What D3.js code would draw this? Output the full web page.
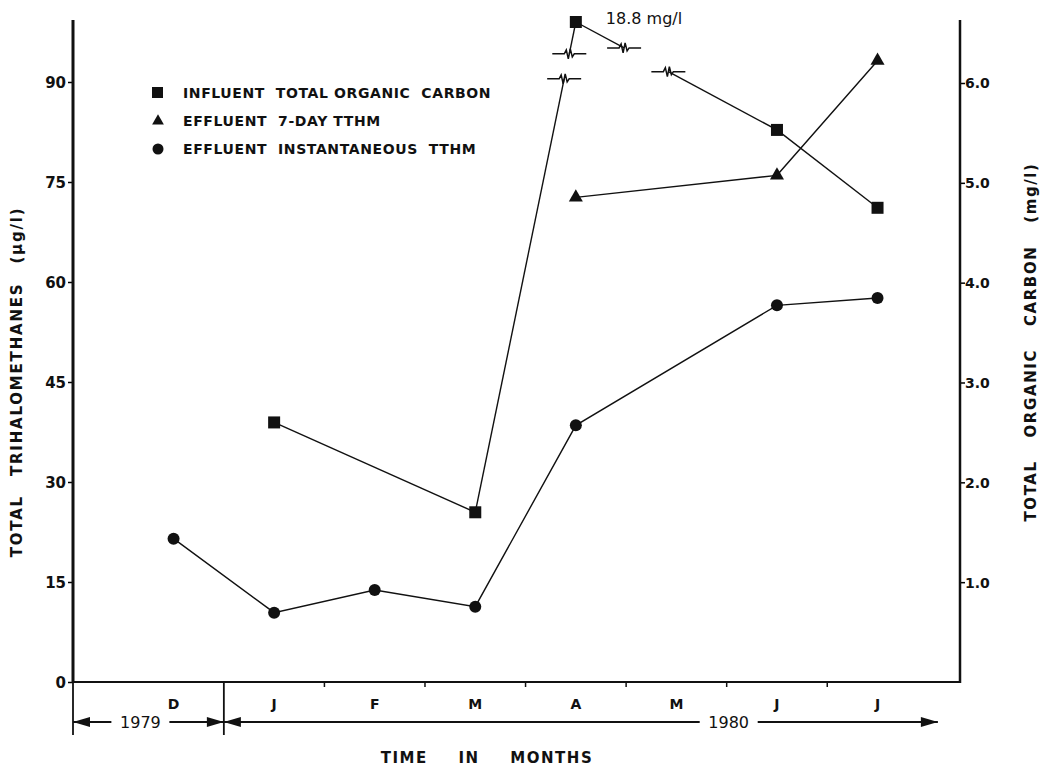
<!DOCTYPE html>
<html>
<head>
<meta charset="utf-8">
<script src="https://cdn.jsdelivr.net/npm/d3@7"></script>
<style>
  body { margin: 0; background: #fff; }
  svg text { font-family: "DejaVu Sans", sans-serif; font-weight: bold; fill: #111; }
</style>
</head>
<body>
<svg id="chart" width="1051" height="770"></svg>
<script>
// month labels along the bottom (D = Dec 1979, then Jan..Jul 1980)
const monthLabels = ["D", "J", "F", "M", "A", "M", "J", "J"];

// effluent instantaneous TTHM (ug/l)
const instMonths = [0, 1, 2, 3, 4, 6, 7];
const instTTHM = [21.5, 10.4, 13.8, 11.3, 38.5, 56.5, 57.6];

// effluent 7-day TTHM (ug/l)
const sevenMonths = [4, 6, 7];
const sevenTTHM = [72.7, 76.0, 93.2];

// influent total organic carbon (mg/l), April value is off the scale
const tocMonths = [1, 3, 4, 6, 7];
const tocValues = [2.6, 1.7, 18.8, 5.53, 4.75];

const leftTicks = [0, 15, 30, 45, 60, 75, 90];
const rightTicks = [1.0, 2.0, 3.0, 4.0, 5.0, 6.0];

const svg = d3.select("#chart");

// x: month index, y left in ug/l, y right in mg/l (1 mg/l TOC = 15 ug/l grid)
const x = d3.scaleLinear().domain([-1, 7.82]).range([73, 960]);
const yLeft = d3.scaleLinear().domain([0, 99]).range([682, 22]);
// broken right scale: the 18.8 mg/l point is squeezed to the top
const yRight = d3.scaleLinear().domain([0, 6.0, 18.8]).range([682, 83, 22]);

// axes
const leftAxis = d3.axisLeft(yLeft).tickValues(leftTicks).tickSize(5).tickPadding(3).tickFormat(d3.format("d"));
const gl = svg.append("g").attr("transform", "translate(73,0)").call(leftAxis);
gl.select(".domain").remove();
gl.selectAll("text").style("font-size", "15px").attr("dy", "0.35em").attr("x", -7);
gl.selectAll("line").attr("stroke-width", 1.5);

const rightAxis = d3.axisRight(yRight).tickValues(rightTicks).tickSize(5).tickFormat(d3.format(".1f"));
const gr = svg.append("g").attr("transform", "translate(960,0)").call(rightAxis);
gr.select(".domain").remove();
gr.selectAll("text").style("font-size", "14px").attr("x", 5).attr("dy", "0.35em");
gr.selectAll("line").attr("stroke-width", 1.5);

// axis lines
svg.append("line").attr("x1", 73).attr("x2", 73).attr("y1", 20).attr("y2", 683)
  .attr("stroke", "#111").attr("stroke-width", 3);
svg.append("line").attr("x1", 960).attr("x2", 960).attr("y1", 20).attr("y2", 683)
  .attr("stroke", "#111").attr("stroke-width", 2.5);
svg.append("line").attr("x1", 72).attr("x2", 961).attr("y1", 682).attr("y2", 682)
  .attr("stroke", "#111").attr("stroke-width", 2);

// bottom month ticks and labels
const boundaries = d3.range(1.5, 7, 1);
svg.selectAll(".mtick").data(boundaries).enter().append("line")
  .attr("x1", d => x(d)).attr("x2", d => x(d))
  .attr("y1", 682).attr("y2", 687)
  .attr("stroke", "#111").attr("stroke-width", 1.5);

svg.selectAll(".mlab").data(monthLabels).enter().append("text")
  .attr("x", (d, i) => x(i)).attr("y", 709)
  .attr("text-anchor", "middle").style("font-size", "14px")
  .text(d => d);

// year separators
[-1, 0.5].forEach(m => {
  svg.append("line").attr("x1", x(m)).attr("x2", x(m))
    .attr("y1", 682).attr("y2", 735).attr("stroke", "#111").attr("stroke-width", 1.8);
});

// year arrows
function yearArrow(m0, m1, label, labelAt, gap) {
  const yy = 722;
  const cx = x(labelAt);
  svg.append("line").attr("x1", x(m0)).attr("x2", cx - gap).attr("y1", yy).attr("y2", yy)
    .attr("stroke", "#111").attr("stroke-width", 2);
  svg.append("line").attr("x1", cx + gap).attr("x2", x(m1)).attr("y1", yy).attr("y2", yy)
    .attr("stroke", "#111").attr("stroke-width", 2);
  svg.append("path")
    .attr("d", `M${x(m0)},${yy} l17,-5 l0,10 z`).attr("fill", "#111");
  svg.append("path")
    .attr("d", `M${x(m1)},${yy} l-17,-5 l0,10 z`).attr("fill", "#111");
  svg.append("text").attr("x", cx).attr("y", yy).attr("dy", "0.35em")
    .attr("text-anchor", "middle").style("font-size", "16px").style("font-weight", "normal")
    .text(label);
}
yearArrow(-1, 0.5, "1979", -0.33, 29);
yearArrow(0.5, 7.6, "1980", 5.52, 29);

// axis titles
svg.append("text").attr("x", 487).attr("y", 763).attr("text-anchor", "middle")
  .style("font-size", "15px").style("word-spacing", "24px").style("letter-spacing", "1.5px")
  .text("TIME IN MONTHS");

svg.append("text").attr("transform", "translate(22,382) rotate(-90)")
  .attr("text-anchor", "middle").style("font-size", "15px")
  .style("word-spacing", "12px").style("letter-spacing", "1.8px")
  .text("TOTAL TRIHALOMETHANES (\u03bcg/l)");

svg.append("text").attr("transform", "translate(1036,342) rotate(-90)")
  .attr("text-anchor", "middle").style("font-size", "15px")
  .style("word-spacing", "16px").style("letter-spacing", "1.6px")
  .text("TOTAL ORGANIC CARBON (mg/l)");

// lines
const lineL = d3.line().x(d => x(d[0])).y(d => yLeft(d[1]));
const instPts = instMonths.map((m, i) => [m, instTTHM[i]]);
const sevenPts = sevenMonths.map((m, i) => [m, sevenTTHM[i]]);
const tocPts = tocMonths.map((m, i) => [m, tocValues[i]]);

svg.append("path").datum(instPts).attr("d", lineL)
  .attr("fill", "none").attr("stroke", "#111").attr("stroke-width", 1.4);
svg.append("path").datum(sevenPts).attr("d", lineL)
  .attr("fill", "none").attr("stroke", "#111").attr("stroke-width", 1.4);

// TOC line with scale breaks on the segments to/from the April value
const tp = tocPts.map(d => [x(d[0]), yRight(d[1])]);
const breakMarks = [];
function seg(a, b, cuts) {
  // cuts: list of [t0, t1] gaps along segment a->b
  let t = 0;
  cuts.forEach(c => {
    svg.append("line")
      .attr("x1", a[0] + (b[0] - a[0]) * t).attr("y1", a[1] + (b[1] - a[1]) * t)
      .attr("x2", a[0] + (b[0] - a[0]) * c[0]).attr("y2", a[1] + (b[1] - a[1]) * c[0])
      .attr("stroke", "#111").attr("stroke-width", 1.4);
    breakMarks.push([a[0] + (b[0] - a[0]) * c[0], a[1] + (b[1] - a[1]) * c[0]]);
    breakMarks.push([a[0] + (b[0] - a[0]) * c[1], a[1] + (b[1] - a[1]) * c[1]]);
    t = c[1];
  });
  svg.append("line")
    .attr("x1", a[0] + (b[0] - a[0]) * t).attr("y1", a[1] + (b[1] - a[1]) * t)
    .attr("x2", b[0]).attr("y2", b[1])
    .attr("stroke", "#111").attr("stroke-width", 1.4);
}
seg(tp[0], tp[1], []);
seg(tp[1], tp[2], [[0.884, 0.935]]);
seg(tp[2], tp[3], [[0.24, 0.46]]);
seg(tp[3], tp[4], []);

svg.selectAll(".brk").data(breakMarks).enter().append("path")
  .attr("transform", d => `translate(${d[0]},${d[1]})`)
  .attr("d", "M-17,0 L-5,0 L-3,-4 L-1,5 L1,-5 L3,3 L5,0 L17,0")
  .attr("fill", "none").attr("stroke", "#111").attr("stroke-width", 1.5);

// markers
svg.selectAll(".circ").data(instPts).enter().append("circle")
  .attr("cx", d => x(d[0])).attr("cy", d => yLeft(d[1])).attr("r", 6).attr("fill", "#111");

const tri = d3.symbol().type(d3.symbolTriangle).size(85);
svg.selectAll(".tri").data(sevenPts).enter().append("path")
  .attr("transform", d => `translate(${x(d[0])},${yLeft(d[1])})`)
  .attr("d", tri).attr("fill", "#111");

svg.selectAll(".sq").data(tocPts).enter().append("rect")
  .attr("x", d => x(d[0]) - 6).attr("y", d => yRight(d[1]) - 6)
  .attr("width", 12).attr("height", 12).attr("fill", "#111");

// April off-scale annotation
svg.append("text").attr("x", x(4) + 30).attr("y", 24)
  .style("font-size", "16px").style("font-weight", "normal")
  .text(tocValues[2] + " mg/l");

// legend
const legendItems = [
  { label: "INFLUENT  TOTAL ORGANIC  CARBON", shape: "square" },
  { label: "EFFLUENT  7-DAY TTHM", shape: "triangle" },
  { label: "EFFLUENT  INSTANTANEOUS  TTHM", shape: "circle" }
];
const lg = svg.append("g");
legendItems.forEach((it, i) => {
  const ly = 93 + i * 28;
  if (it.shape === "square") {
    lg.append("rect").attr("x", 152).attr("y", ly - 6).attr("width", 11).attr("height", 11).attr("fill", "#111");
  } else if (it.shape === "triangle") {
    lg.append("path").attr("transform", `translate(158,${ly})`)
      .attr("d", d3.symbol().type(d3.symbolTriangle).size(60)).attr("fill", "#111");
  } else {
    lg.append("circle").attr("cx", 158).attr("cy", ly).attr("r", 5.5).attr("fill", "#111");
  }
  lg.append("text").attr("x", 183).attr("y", ly).attr("dy", "0.36em")
    .style("font-size", "14px").style("letter-spacing", "0.6px")
    .style("white-space", "pre")
    .text(it.label);
});
</script>
</body>
</html>
